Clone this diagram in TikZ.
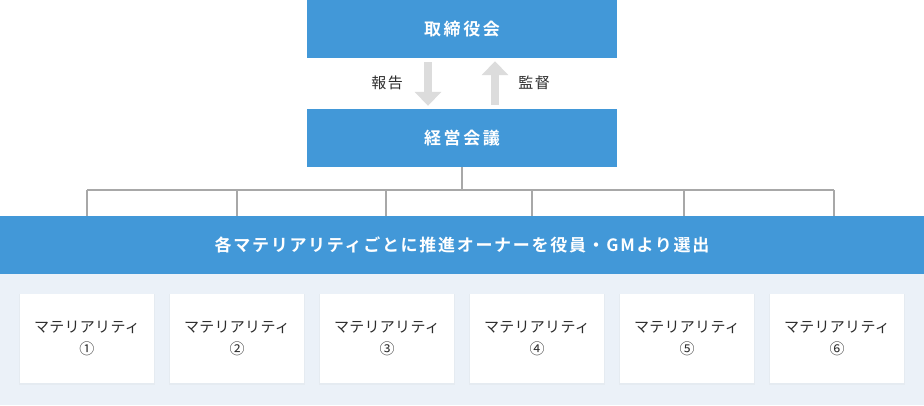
\documentclass[tikz,border=0pt]{standalone}
\usepackage{fontspec}
\setmainfont{Noto Sans CJK JP}[BoldFont={Noto Sans CJK JP Bold}]
\usetikzlibrary{arrows.meta,shadows}
\definecolor{mainblue}{RGB}{66,152,216}
\definecolor{paleband}{RGB}{235,241,248}
\definecolor{arrowgray}{RGB}{220,220,220}
\definecolor{linegray}{RGB}{168,168,168}
\definecolor{txtgray}{RGB}{45,45,45}
\tikzset{
  bluebox/.style={fill=mainblue, draw=none, inner sep=0pt, text=white,
    minimum width=310pt, minimum height=58pt,
    font=\bfseries\fontsize{17}{20}\selectfont\addfontfeature{LetterSpace=15}},
  sidelabel/.style={text=txtgray, inner sep=0pt,
    font=\fontsize{15}{18}\selectfont\addfontfeature{LetterSpace=10}},
  flowarrow/.style={draw=arrowgray, line width=8pt,
    -{Triangle[width=26pt,length=14pt]}},
  treeline/.style={draw=linegray, line width=1.3pt},
  matbox/.style={fill=white, draw=none, inner sep=0pt, text=txtgray,
    minimum width=134pt, minimum height=89pt, align=center,
    font=\fontsize{15}{22}\selectfont\addfontfeature{LetterSpace=2},
    drop shadow={shadow xshift=0pt, shadow yshift=-1pt, opacity=0.05, shadow scale=1.02}},
}
\begin{document}
\begin{tikzpicture}[x=1pt,y=-1pt]
\useasboundingbox (0,0) rectangle (924,405);
\fill[white] (0,0) rectangle (924,405);
% pale band
\fill[paleband] (0,274) rectangle (924,405);
% main boxes
\node[bluebox] (board) at (462,29) {取締役会};
\node[bluebox] (mgmt) at (462,138) {経営会議};
% arrows
\draw[flowarrow] ([xshift=-34pt,yshift=-4pt]board.south) -- ([xshift=-34pt,yshift=3pt]mgmt.north);
\draw[flowarrow] ([xshift=33pt,yshift=4pt]mgmt.north) -- ([xshift=33pt,yshift=-3pt]board.south);
\node[sidelabel] (rep) at (387,83) {報告};
\node[sidelabel] (sup) at (534,83) {監督};
% banner
\node[fill=mainblue, draw=none, inner sep=0pt, minimum width=924pt, minimum height=58pt,
  text=white, font=\bfseries\fontsize{17}{20}\selectfont\addfontfeature{LetterSpace=10}]
  (banner) at (462,245) {各マテリアリティごとに推進オーナーを役員・GMより選出};
% tree
\coordinate (bus) at (462,190);
\coordinate (j1) at (87,190);
\coordinate (j2) at (237,190);
\coordinate (j3) at (386,190);
\coordinate (j4) at (532,190);
\coordinate (j5) at (684,190);
\coordinate (j6) at (834,190);
\draw[treeline] (mgmt.south) -- (bus);
\draw[treeline] (j1) -- (j6);
\foreach \j in {j1,j2,j3,j4,j5,j6}{
  \draw[treeline] (\j) -- (\j |- banner.north);
}
% materiality boxes
\node[matbox] (m1) at (87,338.5) {マテリアリティ\\①};
\node[matbox] (m2) at (237,338.5) {マテリアリティ\\②};
\node[matbox] (m3) at (387,338.5) {マテリアリティ\\③};
\node[matbox] (m4) at (537,338.5) {マテリアリティ\\④};
\node[matbox] (m5) at (687,338.5) {マテリアリティ\\⑤};
\node[matbox] (m6) at (837,338.5) {マテリアリティ\\⑥};
\end{tikzpicture}
\end{document}
